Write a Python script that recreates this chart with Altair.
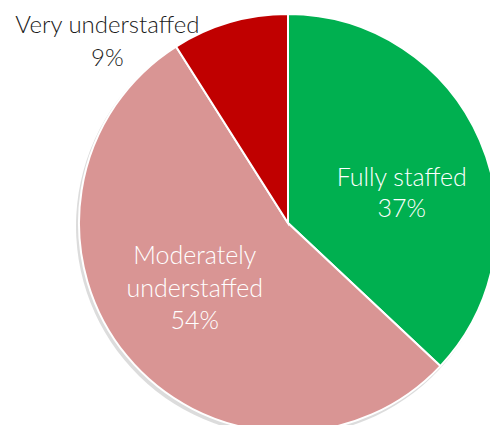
import altair as alt
import pandas as pd

categories = ["Fully staffed", "Moderately understaffed", "Very understaffed"]
values = [37, 54, 9]
label_texts = ["Fully staffed\n37%", "Moderately\nunderstaffed\n54%", "Very understaffed\n9%"]
colors = ["#00B050", "#D99594", "#C00000"]

df = pd.DataFrame({
    "cat": categories,
    "value": values,
    "label": label_texts,
    "order": list(range(len(categories))),
})

CX, CY, R = 280, 215, 209
FONT = "Lato"

theta_scale = alt.Scale(domain=[0, 100])
base = alt.Chart(df)

shadow = base.mark_arc(outerRadius=R + 1, color="#9a9a9a", opacity=0.35).encode(
    theta=alt.Theta("value:Q", stack=True, scale=theta_scale),
    order=alt.Order("order:Q"),
    x=alt.value(CX - 2), y=alt.value(CY + 3),
)

pie = base.mark_arc(outerRadius=R, stroke="white", strokeWidth=2).encode(
    theta=alt.Theta("value:Q", stack=True, scale=theta_scale),
    color=alt.Color("cat:N", scale=alt.Scale(domain=categories, range=colors), legend=None),
    order=alt.Order("order:Q"),
    x=alt.value(CX), y=alt.value(CY),
)

lab_base = base.transform_window(
    cum="sum(value)", sort=[alt.SortField("order")], frame=[None, 0]
).transform_calculate(mid="datum.cum - datum.value / 2")

def label(cat, radius, dx, dy, lh, color, size=25):
    return lab_base.transform_filter(alt.datum.cat == cat).mark_text(
        radius=radius, dx=dx, dy=dy, font=FONT, fontSize=size, fontWeight=300,
        lineBreak="\n", lineHeight=lh, align="center", baseline="middle", color=color,
    ).encode(
        theta=alt.Theta("mid:Q", scale=theta_scale),
        text="label:N",
        x=alt.value(CX), y=alt.value(CY),
    )

chart = alt.layer(
    shadow,
    pie,
    label("Fully staffed", 124, 0, 4, 31, "white"),
    label("Moderately understaffed", 121, 0, -44, 32.5, "white"),
    label("Very understaffed", 192, -127, -13, 33, "#1a1a1a", size=24),
).properties(
    width=482, height=417, padding=0, autosize=alt.AutoSizeParams(type="none")
).configure_view(stroke=None)

chart.save("out.html", embed_options={"renderer": "svg", "actions": False})
